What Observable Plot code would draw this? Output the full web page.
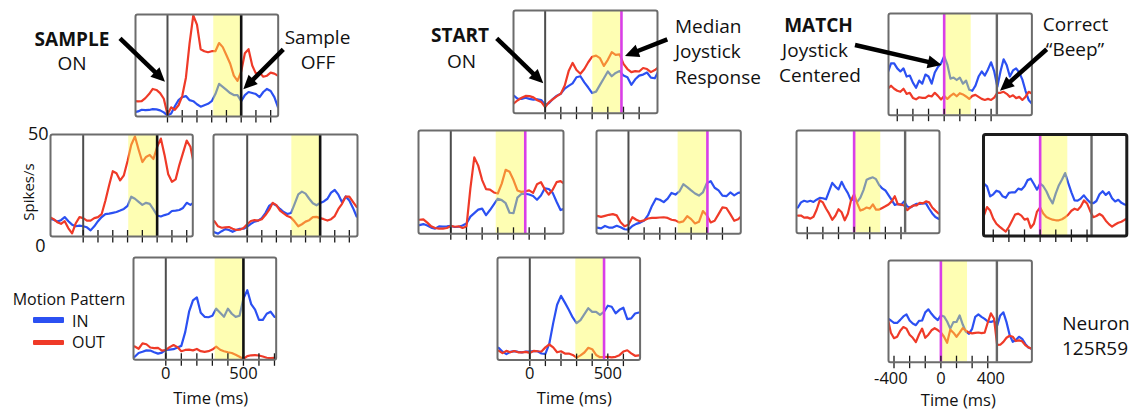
<!DOCTYPE html>
<html><head><meta charset="utf-8">
<script src="https://cdn.jsdelivr.net/npm/d3@7"></script>
<script src="https://cdn.jsdelivr.net/npm/@observablehq/plot@0.6"></script>
<style>
body{margin:0;background:#fff;}
#fig{position:relative;width:1135px;height:411px;overflow:hidden;font-family:"Open Sans",sans-serif;color:#111;background:#fff;}
.pan{position:absolute;}
.txt{position:absolute;white-space:nowrap;line-height:1.1;}
</style></head><body><div id="fig"></div>
<script>
// ---------- DATA (spikes/s) ----------
const timeG1 = [-225,-200,-175,-150,-125,-100,-75,-50,-25,0,25,50,75,100,125,150,175,200,225,250,275,300,325,350,375,400,425,450,475,500,525,550,575,600,625,650,675,700,725,750];
const timeG2 = [-225,-200,-175,-150,-125,-100,-75,-50,-25,0,25,50,75,100,125,150,175,200,225,250,275,300,325,350,375,400,425,450,475,500,525,550,575,600,625,650,675,700,725];
const timeG3 = [-450,-425,-400,-375,-350,-325,-300,-275,-250,-225,-200,-175,-150,-125,-100,-75,-50,-25,0,25,50,75,100,125,150,175,200,225,250,275,300,325,350,375,400,425,450,475,500,525,550,575,600,625,650,675,700,725];

// SAMPLE-aligned panels (top, left, right, bottom)
const g1TopIn   = [2.1,2.5,3.3,3.1,3.2,3.6,3.5,3,2,0.5, 1.5,5,8,9.5,10,8,7.5,6,4.8,5.5, 6.2,7.5,11,16,14.5,13,11.5,10.5,10.5,7.5, 10.5,12,11.5,11,9.5,12,13.5,12.5,9.5,4.5];
const g1TopOut  = [7.5,7.4,7.5,9,11,13.5,13,11.5,8.7,1, 4.5,3.3,5.5,10,19,36,49.5,45,33,32, 31.5,32,32,36,34,30,26,20,17.5,22, 31,33,25,21,21.5,19.5,20,21.5,21,20];
const g1LeftIn  = [8.7,8.2,7.3,8,9.5,7.5,5.8,5,5.3,5, 4.5,3,5,7.5,9.5,11,11.2,11.6,12,12.7, 13.5,15,19.5,18.5,17,15.5,16.5,16,13.3,10.3, 9.8,10.5,11,12.5,12.7,13,14,16.5,15.5,16.8];
const g1LeftOut = [9.5,8.5,7,6.2,7.5,4,1.5,6.5,9.5,9, 7.8,7.8,9,9.5,11,17.5,25,32,31,27.5, 30,37,45,49,42.5,36.5,39,40,38,44, 48,40,30.5,26.8,28,35,41,47,44,35];
const g1RightIn = [2.1,1.4,2.6,3.6,3.2,2.3,3.2,3.8,3.8,4.8, 6.2,7.3,7.8,9,11.5,15,16.2,15.2,13.5,12, 11,11.5,16,20.7,22,21,18.5,16.3,15.3,16.4, 17.2,18.5,21.5,22.8,20.5,16.8,19.6,17.6,14,9.8];
const g1RightOut= [7.5,5,4.3,4.5,4.6,3.8,3.2,3.3,4.2,6, 7.6,8,7.8,8.5,10.5,13,16.5,15.4,12.7,11.3, 10,9.3,7.3,5,6,7.3,8,9.5,9.6,9, 8.5,7.8,8.5,10,13.5,16,19.5,19.6,17,14.5];
const g1BotIn   = [1,1.5,3.3,3.9,4.6,4.5,3.7,3,3.5,4.8, 5,5.2,6,6.8,13.5,23.5,29,30.5,23,21, 20.8,21.5,25,23,21,25,22.5,21,21.5,30, 34,27.2,24.5,19.5,19.5,22.5,23.5,21,20.7,20];
const g1BotOut  = [7,6.5,5.4,8,7.6,6,5.7,5.8,4.5,4.8, 6.2,7.2,6.2,4.2,4.8,5,4.6,5.3,4.2,3.9, 4.2,5,6.4,4.9,4.2,3.7,3.3,2.5,1.5,0.4, 1.8,2.2,2.3,2.1,1.6,1,0.8,1,0.7,0.8];

// START-aligned panels
const g2TopIn   = [9.4,8.5,7,7,7.5,7,6.6,6.8,6.4,4, 5,7,8.5,9.5,12,13.3,14.5,17.5,18,15, 12.5,9.8,10.5,13.8,17,20.3,18,19.6,20.5,18.3, 17.5,13.8,16.5,18.3,18.8,19.8,17.3,17,20.8];
const g2TopOut  = [4.5,4.8,6.3,7.5,8.4,8.3,7.7,6.3,5.5,3, 5.4,6.9,8.3,9.5,13.5,20.5,24.5,21,19.2,21.5, 24.8,27.5,28,26.8,23,26,29.7,28.4,28.6,24, 21.5,20,20.5,20.3,22,21.5,20,21,22.4];
const g2LeftIn  = [4,4.2,4.7,4,3,2.5,3.6,3.5,3.6,3.8, 3.3,3.4,4,5,8.3,10,11.7,12.2,9,11.5, 14.2,17,16.3,14.8,10.2,10,17.5,19.3,19.4,19, 18.3,16.5,18.5,22,21.7,19.8,15.5,11.5,12.1];
const g2LeftOut = [6.5,6.8,7,5.4,3.6,2.8,2.5,2.5,2.8,3.8, 3.4,3.6,2.8,3.5,22,37,33,26,21.6,21.4, 20,19.5,24.3,31,30,26,21,20.3,20.6,21, 19.8,24,25,21.5,19,21.3,25,25.5,24.2];
const g2RightIn = [3.6,3,2.6,3.8,3,3,3.9,3.2,2.2,2, 3.8,4.8,5.4,6.4,9,13.5,17,16.5,15.3,17, 19.8,19,20.5,24,22.6,21,19.5,18.5,20,24.5, 25.5,22.3,21,18.5,18.2,20,18.6,19.8,20.2];
const g2RightOut= [8.9,8.7,8.2,8.7,9.2,9.5,8.9,5.6,3.6,4.4, 8,6.8,6,6.5,7.4,7.7,7.7,7.9,8,7.7, 6.8,6.5,5.5,6,8.5,7.1,5,5.8,11,9, 5.5,6.3,9.5,12.8,12.5,9.5,6.3,7,8.9];
const g2BotIn   = [6.2,6,4.1,2.9,4,4.4,4,3.8,4.1,4.1, 4.4,4.3,3.2,3,8,18,27,31.3,28,24.5, 20.8,18,19.5,22.4,25.3,23.5,23.5,22,23.5,26.5, 26,22.8,24.5,25.5,20,20.3,22.7,23.2,23.2];
const g2BotOut  = [4.5,4.6,3.4,4.5,3.8,4.4,3.8,3.8,4,3.5, 4.5,4.3,4.2,6.2,7.6,6.2,3.8,4.3,3.2,3.2, 2.5,1.2,2.3,3.7,6,5.3,2.5,1.4,1.5,1.6, 1.3,1.6,2.4,4.2,4.8,3.3,2.1,2.3,2.4];

// MATCH-aligned panels
const g3TopIn   = [21,25.5,25.5,23,21.5,23,19,19.5,16,13.5, 17,15.5,20,19,15.5,21,23.7,25.5,29,25, 18,18.5,17.3,18.5,15.5,17,12.5,12,14.5,19, 21.5,19.5,22.5,26,21.5,14,21.5,27.5,24.5,19, 22,23,21,17.5,12,7.5,5.7,5.5];
const g3TopOut  = [13,14.5,13,12,11.5,13,10.5,11,8.5,7.8, 8.8,8.5,8.5,9.6,9.2,11,9.5,7.7,9.5,8, 9.5,10.6,9.3,10.8,10.2,9.2,8,9.5,10,9, 8,7.5,8,7.5,8.6,11,11,11.5,10.5,9, 9.8,8.4,9,7.5,9,11.5,10.7,10.7];
const g3LeftIn  = [12.5,15,15.8,15.3,15.8,15.2,16.3,17.2,17,16.5, 20.5,24.5,22.7,21.3,25,22,19.5,16,16.7,15.2, 17.3,21,26,26.7,27.2,26.3,23.5,21.8,20.8,18.5, 16.2,13.8,14.2,13.7,15.5,13,12.5,13.5,14.3,14.3, 14.5,14.5,11.9,9.6,7.9,7,7,7];
const g3LeftOut = [8.6,8.6,7.6,7.7,7.1,8,11.4,16,15,12, 9.5,6.5,8.5,11.7,10.2,6.3,9.5,16,19,14.5, 11,11.6,12.5,12,14,11.5,11.5,12.3,13.1,14, 15.5,18,14,14,13.5,11.2,12.6,13.5,13.5,14.8, 14.5,15.5,15,12.5,11,9.6,9.4,9.4];
const g3RightIn = [25.8,24.4,19.5,20.5,22.3,21.7,19.5,18.8,21.2,21.5, 21.5,23.3,22.8,24.5,27.5,28.2,25.6,22.8,25.8,24.5, 22,18.6,16,21,25,27.8,31,26,21.5,17.5, 17.4,18.4,20,18,16.5,16.1,17.2,20.5,22,20.2, 21.6,18.6,17,17.8,16.3,15.5,15.1,15];
const g3RightOut= [10,14.2,12.5,8.5,6,4.6,3.3,2.1,4.5,7.5, 10.5,11,10,8,8.5,4,6,12,14,11, 9.3,8.6,8,7.7,7.7,8.2,9.2,10.5,12.4,13.4, 12.8,14.5,17.5,16,12.3,9.2,9.8,10.8,9.8,7.5, 5.8,4.6,5.6,6.5,7,7.9,8.6,8.6];
const g3BotIn   = [22,21.5,20.5,19.3,19.3,20.8,22.5,23.5,20.5,19, 18.2,20.3,20.5,24.5,26,23.8,22,20.7,23,22.5, 20,16.5,19.7,19.8,23,18.5,15,14,16.4,22.3, 23.5,22.3,21.3,20,19.8,20.3,18,23,24.5,19.7, 13.4,10,10.9,12.5,11.5,9,7.2,6.6];
const g3BotOut  = [23,21.5,14.5,11.8,12.5,15.5,17.3,16.5,13.5,12, 9.9,13.6,16.5,12,13.5,15.7,16.7,15.8,14.6,12.5, 9.5,16,14.5,12.5,14.5,16.7,15.5,14.5,14.2,14.4, 14.6,14.3,14.5,19.5,24,21.5,8.5,8.6,10,12, 13,12.5,10.4,10.7,10.3,8.4,7.3,6.6];

// task events (ms), order: top, left, right, bottom
const g1Window   = [[314,500],[308,500],[306,500],[318,500]];
const g1Offset   = 500;
const g2Joystick = [487,475,504,476];
const g2Window   = [[304,487],[290,475],[317,504],[295,476]];
const g3Window   = [[0,216],[0,213],[0,221],[0,213]];
const g3Beep     = [421,408,411,448];

const g1Ticks = [0,100,200,300,400,500,600,700];
const g2Ticks = [0,100,200,300,400,500,600];
const g3Ticks = [-375,-250,-125,0,125,250,375];
const g1Labels = [0,500], g2Labels = [0,500], g3Labels = [-400,0,400];
const yTickLabels = [50,0];
const seriesNames = ["IN","OUT"];

// ---------- LAYOUT ----------
const BLUE="#2b50f2", RED="#ef3a28", MAG="#d93ee8";
const layout = [
 {box:[135,14,142.7,102],     dom:[-217,751]},
 {box:[50,134,142.3,102],     dom:[-221,741], ml:45, mb:20, ylab:true},
 {box:[213.3,134,144,102],    dom:[-231,756]},
 {box:[133.3,256.7,142.7,102.3], dom:[-208,711], mb:30, pad:7},
 {box:[512.7,10,144,102.7],   dom:[-202,717]},
 {box:[418.3,129.7,145,103.3],dom:[-206,719]},
 {box:[595.7,130,144.3,103.3],dom:[-204,717]},
 {box:[496.7,256.7,142.6,102.6], dom:[-207,707], mb:30, pad:7},
 {box:[888.3,13.3,143.4,101.7], dom:[-445,701]},
 {box:[796,130,143,102.7],    dom:[-461,683]},
 {box:[982.7,134.3,143.3,101.4], dom:[-453,693], frame:"#1c1c1c", fw:3},
 {box:[888.3,260,143.4,101.7],dom:[-419,728], mb:32, pad:10}
];

const g1In=[g1TopIn,g1LeftIn,g1RightIn,g1BotIn], g1Out=[g1TopOut,g1LeftOut,g1RightOut,g1BotOut];
const g2In=[g2TopIn,g2LeftIn,g2RightIn,g2BotIn], g2Out=[g2TopOut,g2LeftOut,g2RightOut,g2BotOut];
const g3In=[g3TopIn,g3LeftIn,g3RightIn,g3BotIn], g3Out=[g3TopOut,g3LeftOut,g3RightOut,g3BotOut];

const specs = [];
for (let i=0;i<4;i++) specs.push({time:timeG1,inV:g1In[i],outV:g1Out[i],win:g1Window[i],ticks:g1Ticks,labels:i===3?g1Labels:null,
  events:[{t:0,color:"#4d4d4d",w:2},{t:g1Offset,color:"#111",w:2.6}]});
for (let i=0;i<4;i++) specs.push({time:timeG2,inV:g2In[i],outV:g2Out[i],win:g2Window[i],ticks:g2Ticks,labels:i===3?g2Labels:null,
  events:[{t:0,color:"#4d4d4d",w:2},{t:g2Joystick[i],color:MAG,w:2.6}]});
for (let i=0;i<4;i++) specs.push({time:timeG3,inV:g3In[i],outV:g3Out[i],win:g3Window[i],ticks:g3Ticks,labels:i===3?g3Labels:null,
  events:[{t:0,color:MAG,w:2.6},{t:g3Beep[i],color:"#666",w:2.4}]});

const fig = document.getElementById("fig");

specs.forEach((s,idx)=>{
  const L = layout[idx];
  const [bx,by,bw,bh] = L.box;
  const mt=3, mr=3, ml=L.ml||3, mb=L.mb||12;
  const k = bh/50;
  const rows = s.time.map((t,i)=>({t, a:s.inV[i], b:s.outV[i]}));
  const marks = [
    Plot.line(rows,{x:"t",y:"a",stroke:BLUE,strokeWidth:2.2,clip:true}),
    Plot.line(rows,{x:"t",y:"b",stroke:RED,strokeWidth:2.2,clip:true}),
    Plot.rect([s.win],{x1:d=>d[0],x2:d=>d[1],y1:0,y2:50,fill:"#fcfc4a",fillOpacity:0.42})
  ];
  s.events.forEach(ev=>marks.push(Plot.ruleX([ev.t],{stroke:ev.color,strokeWidth:ev.w})));
  marks.push(Plot.ruleX(s.ticks,{y1:-6.5/k,y2:6/k,stroke:"#1a1a1a",strokeWidth:1.3}));
  if (s.labels) marks.push(Plot.axisX({ticks:s.labels,tickSize:0,tickPadding:L.pad,fontSize:16.5,tickFormat:d=>String(d),label:null}));
  if (L.ylab) {
    marks.push(Plot.text([yTickLabels[0]],{x:L.dom[0],y:d=>d,text:d=>String(d),textAnchor:"end",dx:-2,fontSize:18}));
    marks.push(Plot.text([yTickLabels[1]],{x:L.dom[0],y:d=>d,text:d=>String(d),textAnchor:"end",dx:-5,dy:10,fontSize:18}));
  }
  marks.push(Plot.frame({stroke:L.frame||"#6c6c6c",strokeWidth:L.fw||2,rx:2}));
  const svg = Plot.plot({
    width: ml+bw+mr, height: mt+bh+mb,
    marginTop:mt, marginRight:mr, marginBottom:mb, marginLeft:ml,
    x:{domain:L.dom, axis:null}, y:{domain:[0,50], axis:null},
    style:{overflow:"visible", fontFamily:"'Open Sans', sans-serif", background:"transparent", color:"#111"},
    marks
  });
  const d = document.createElement("div");
  d.className="pan"; d.style.left=(bx-ml)+"px"; d.style.top=(by-mt)+"px";
  d.appendChild(svg); fig.appendChild(d);
});

// ---------- TEXT ----------
const texts = [
 {t:"SAMPLE",x:72,y:39,b:true},{t:"ON",x:72,y:62.5},
 {t:"Sample",x:317.5,y:37},{t:"OFF",x:318,y:62},
 {t:"START",x:460,y:35,b:true},{t:"ON",x:461.5,y:61},
 {t:"Median",x:675,y:25.7,a:"start"},{t:"Joystick",x:675,y:51,a:"start"},{t:"Response",x:675,y:77,a:"start"},
 {t:"MATCH",x:818.5,y:24.5,b:true},{t:"Joystick",x:815,y:50},{t:"Centered",x:820,y:74.5},
 {t:"Correct",x:1075.5,y:24},{t:"\u201CBeep\u201D",x:1075,y:49},
 {t:"Neuron",x:1096,y:323},{t:"125R59",x:1095,y:348.3},
 {t:"Time (ms)",x:210.7,y:397.5,s:16.5},{t:"Time (ms)",x:574.3,y:398,s:16.5},{t:"Time (ms)",x:958.3,y:400,s:16.5},
 {t:"Motion Pattern",x:69,y:300,s:16},
 {t:seriesNames[0],x:72,y:321.7,s:16,a:"start"},{t:seriesNames[1],x:72,y:343,s:16,a:"start"},
 {t:"Spikes/s",x:28,y:192,s:15,r:-90}
];
texts.forEach(o=>{
  const d=document.createElement("div");
  d.className="txt"; d.textContent=o.t;
  d.style.left=o.x+"px"; d.style.top=o.y+"px";
  d.style.fontSize=(o.s||19)+"px";
  if(o.b) d.style.fontWeight="700";
  const tx = o.a==="start" ? "0" : "-50%";
  d.style.transform=`translate(${tx},-50%)`+(o.r?` rotate(${o.r}deg)`:"");
  fig.appendChild(d);
});

// legend swatches
[[BLUE,320],[RED,342.3]].forEach(([c,y])=>{
  const d=document.createElement("div");
  d.style.cssText=`position:absolute;left:33px;top:${y-2.75}px;width:31px;height:5.5px;background:${c};border-radius:1px`;
  fig.appendChild(d);
});

// ---------- ARROWS ----------
const arrows = [
 {f:[120,38.3],t:[165,81.7]},
 {f:[283.3,49.3],t:[243.3,89.3]},
 {f:[496.7,38.3],t:[543.3,83.3]},
 {f:[667.3,39.3],t:[625,56]},
 {f:[855,45],t:[941.7,65]},
 {f:[1046.7,49.3],t:[1000,90.7]}
];
const ov = d3.create("svg").attr("width",1135).attr("height",411)
  .style("position","absolute").style("left","0").style("top","0").style("overflow","visible");
arrows.forEach(a=>{
  const dx=a.t[0]-a.f[0], dy=a.t[1]-a.f[1], len=Math.hypot(dx,dy);
  const ux=dx/len, uy=dy/len, nx=-uy, ny=ux;
  const HL=14, HW=13;
  const bxp=a.t[0]-ux*HL, byp=a.t[1]-uy*HL;
  ov.append("line").attr("x1",a.f[0]).attr("y1",a.f[1]).attr("x2",bxp+ux*1).attr("y2",byp+uy*1)
    .attr("stroke","#000").attr("stroke-width",4.5);
  ov.append("polygon").attr("points",[[a.t[0],a.t[1]],[bxp+nx*HW/2,byp+ny*HW/2],[bxp-nx*HW/2,byp-ny*HW/2]].map(p=>p.join(",")).join(" "))
    .attr("fill","#000");
});
fig.appendChild(ov.node());
</script></body></html>
